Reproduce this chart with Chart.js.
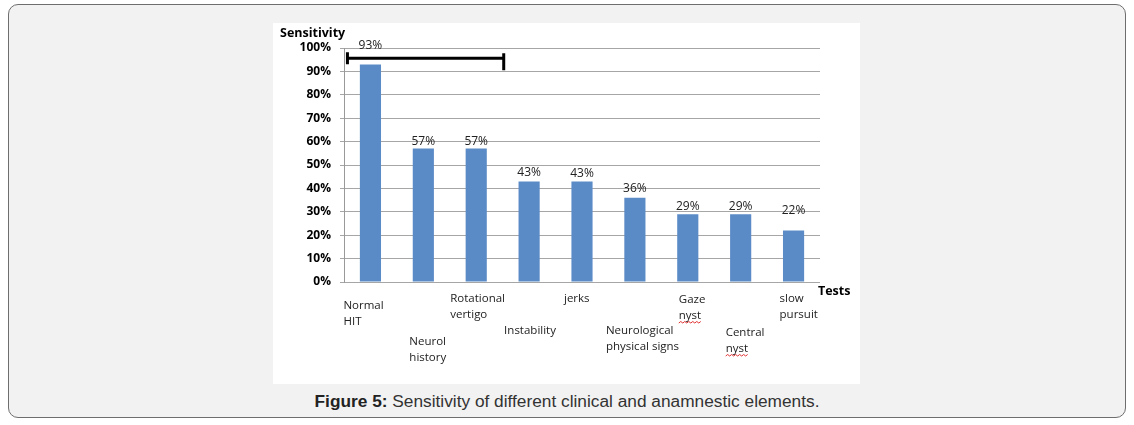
<!DOCTYPE html>
<html>
<head>
<meta charset="utf-8">
<script src="https://cdn.jsdelivr.net/npm/chart.js@4"></script>
<style>
  html, body { margin: 0; padding: 0; background: #ffffff; width: 1134px; height: 425px; overflow: hidden; }
  #frame { position: absolute; left: 8px; top: 4px; width: 1116px; height: 412px; border: 1px solid #6e6e6e; border-radius: 10px; background: #f2f2f2; }
  #holder { position: absolute; left: 273px; top: 23px; width: 587px; height: 361px; background: #ffffff; }
  #caption { position: absolute; left: 0; width: 1134px; top: 391px; text-align: center; font-family: "Liberation Sans", Arial, sans-serif; font-size: 17.3px; color: #333; }
  #caption b { color: #222; }
</style>
</head>
<body>
<div id="frame"></div>
<div id="holder"><canvas id="c" width="587" height="361"></canvas></div>
<div id="caption"><b>Figure 5:</b> Sensitivity of different clinical and anamnestic elements.</div>
<script>
const categories = [
  ["Normal", "HIT"],
  ["Neurol", "history"],
  ["Rotational", "vertigo"],
  ["Instability"],
  ["jerks"],
  ["Neurological", "physical signs"],
  ["Gaze", "nyst"],
  ["Central", "nyst"],
  ["slow", "pursuit"]
];
const sensitivity = [93, 57, 57, 43, 43, 36, 29, 29, 22];
const yTicks = [0, 10, 20, 30, 40, 50, 60, 70, 80, 90, 100];
const yTitle = "Sensitivity";
const xTitle = "Tests";

const FONT = '"Open Sans", "Noto Sans", sans-serif';

function squiggle(ctx, x, y, w) {
  ctx.save();
  ctx.strokeStyle = '#e03030';
  ctx.lineWidth = 1;
  ctx.beginPath();
  ctx.moveTo(x, y);
  let up = true;
  for (let px = x + 2; px <= x + w; px += 2) {
    ctx.lineTo(px, y + (up ? -1.5 : 0));
    up = !up;
  }
  ctx.stroke();
  ctx.restore();
}

const annotate = {
  id: 'annotate',
  afterDraw(chart) {
    const ctx = chart.ctx;
    const xs = chart.scales.x, ys = chart.scales.y;
    const meta = chart.getDatasetMeta(0);
    const cat = (xs.getPixelForValue(1) - xs.getPixelForValue(0));
    ctx.save();
    // value labels
    ctx.font = '12px ' + FONT;
    ctx.fillStyle = '#222';
    ctx.textAlign = 'center';
    ctx.textBaseline = 'middle';
    const lift = [19, 7, 7, 9, 8, 9, 8, 8, 20];
    meta.data.forEach((bar, i) => {
      ctx.fillText(sensitivity[i] + '%', bar.x, bar.y - lift[i]);
    });
    // category labels (staggered)
    const drop = [24, 60, 17, 49, 17, 49, 18, 51, 17];
    const dx = [-27, -14, -26, -25, -18, -29, -9, -15, -14];
    const lineH = 16;
    ctx.font = '11.5px ' + FONT;
    ctx.textAlign = 'left';
    categories.forEach((lines, i) => {
      const left = xs.getPixelForValue(i) + dx[i];
      lines.forEach((l, k) => {
        const y = ys.bottom + drop[i] + k * lineH;
        ctx.fillText(l, left, y);
        if (l === 'nyst') squiggle(ctx, left, y + 7, ctx.measureText(l).width);
      });
    });
    // titles
    ctx.font = 'bold 12.5px ' + FONT;
    ctx.fillStyle = '#000';
    ctx.textAlign = 'left';
    ctx.fillText(yTitle, 7, 10);
    ctx.fillText(xTitle, xs.right - 2, ys.bottom + 9);
    // bracket
    const by = ys.getPixelForValue(95) - 1.5;
    const x0 = xs.getPixelForValue(0) - 0.435 * cat;
    const x1 = xs.getPixelForValue(2) + 0.52 * cat;
    ctx.strokeStyle = '#000';
    ctx.lineWidth = 3;
    ctx.beginPath();
    ctx.moveTo(x0, by); ctx.lineTo(x1, by);
    ctx.moveTo(x0, by - 6); ctx.lineTo(x0, by + 6);
    ctx.moveTo(x1, by - 5); ctx.lineTo(x1, by + 12);
    ctx.stroke();
    ctx.restore();
  }
};

new Chart(document.getElementById('c'), {
  type: 'bar',
  data: {
    labels: categories.map(c => c.join(' ')),
    datasets: [{
      data: sensitivity,
      backgroundColor: '#5b8bc7',
      borderWidth: 0,
      barPercentage: 0.4,
      categoryPercentage: 1.0
    }]
  },
  options: {
    responsive: false,
    animation: false,
    layout: { padding: { top: 25, right: 40, left: 0, bottom: 0 } },
    plugins: { legend: { display: false }, tooltip: { enabled: false } },
    scales: {
      x: {
        ticks: { display: false },
        grid: { display: false },
        border: { display: false },
        afterFit(s) { s.height = 102; }
      },
      y: {
        min: 0, max: 100,
        afterBuildTicks(s) { s.ticks = yTicks.map(v => ({ value: v })); },
        ticks: {
          callback: v => v + '%',
          font: { family: FONT, size: 12, weight: 'bold' },
          color: '#000',
          padding: 9
        },
        grid: { color: '#a6a6a6', lineWidth: 1, tickLength: 4 },
        border: { display: true, color: '#999999' },
        afterFit(s) { s.width = 71; }
      }
    }
  },
  plugins: [annotate]
});
</script>
</body>
</html>
